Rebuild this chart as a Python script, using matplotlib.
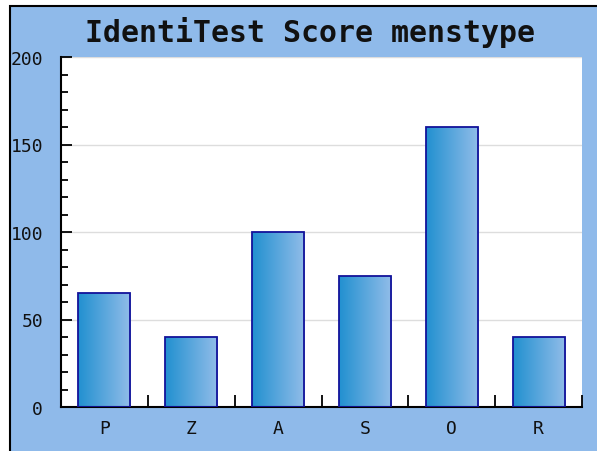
import numpy as np
import matplotlib
matplotlib.use("Agg")
import matplotlib.pyplot as plt
from matplotlib.patches import Rectangle
from matplotlib.ticker import MultipleLocator, FixedLocator

# data
categories = ["P", "Z", "A", "S", "O", "R"]
scores = [65, 40, 100, 75, 160, 40]

W, H = 597, 452
fig = plt.figure(figsize=(W / 100, H / 100), dpi=100)
fig.patch.set_facecolor("white")

# blue backdrop with black border on left / top
bg = Rectangle((10 / W, -0.1), 1.2, 1 - 7 / H + 0.1, transform=fig.transFigure,
               facecolor="#8fbaea", edgecolor="black", linewidth=1.5, zorder=-10)
fig.patches.append(bg)

ax = fig.add_axes([61 / W, 1 - 408 / H, (582 - 61) / W, (408 - 58) / H])
ax.set_facecolor("white")

x = np.arange(len(categories))
bars = ax.bar(x, scores, width=0.6, color="none", edgecolor="#12129a",
              linewidth=1.3, zorder=3)

# horizontal gradient inside each bar
grad = np.linspace(0, 1, 256).reshape(1, -1)
cmap = matplotlib.colors.LinearSegmentedColormap.from_list(
    "barg", ["#2190d0", "#92bde9"])
for b in bars:
    x0, y0 = b.get_x(), b.get_y()
    im = ax.imshow(grad, cmap=cmap, aspect="auto", zorder=2,
                   extent=[x0, x0 + b.get_width(), y0, y0 + b.get_height()])
    im.set_clip_path(b)

ax.set_xlim(-0.5, len(categories) - 0.5)
ax.set_ylim(0, 200)

ax.yaxis.set_major_locator(MultipleLocator(50))
ax.yaxis.set_minor_locator(MultipleLocator(10))
ax.yaxis.grid(True, which="major", color="#dddddd", linewidth=1, zorder=0)
ax.set_axisbelow(True)

ax.set_xticks(x)
ax.set_xticklabels(categories)
ax.xaxis.set_minor_locator(FixedLocator(np.arange(0.5, len(categories), 1)))
ax.tick_params(axis="x", which="major", length=0, pad=9)
ax.tick_params(axis="x", which="minor", direction="in", length=9, width=1.3)
ax.tick_params(axis="y", which="major", direction="in", length=8, width=1.3, pad=13)
ax.tick_params(axis="y", which="minor", direction="in", length=5, width=1.3)

for lab in ax.get_xticklabels() + ax.get_yticklabels():
    lab.set_fontfamily("DejaVu Sans Mono")
    lab.set_fontsize(13)
    lab.set_color("#111111")

for s in ["top", "right"]:
    ax.spines[s].set_visible(False)
for s in ["left", "bottom"]:
    ax.spines[s].set_linewidth(1.5)

fig.text(310 / W, 1 - 32 / H, "IdentiTest Score menstype", ha="center",
         va="center", fontsize=21.5, fontweight="bold",
         fontfamily="DejaVu Sans Mono", color="#111111")

fig.savefig("out.png", dpi=100)
